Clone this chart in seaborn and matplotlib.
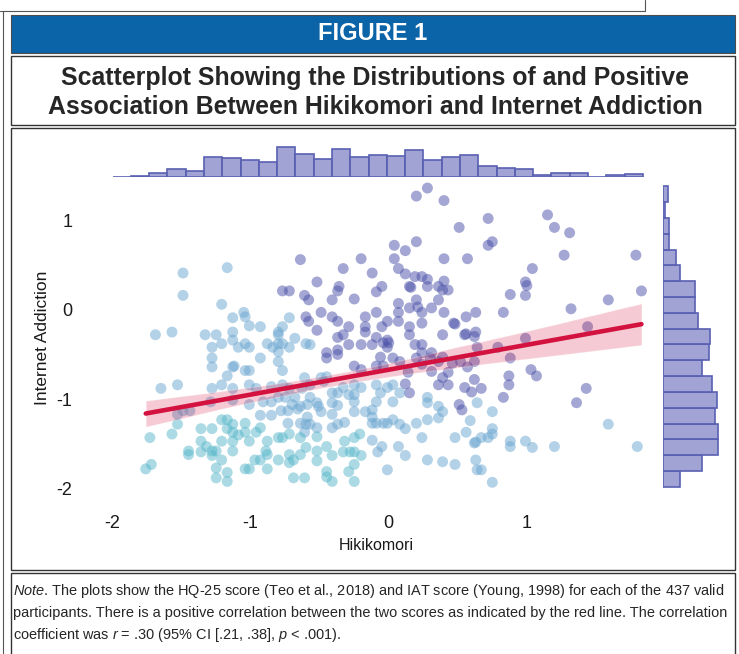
import matplotlib
matplotlib.use("Agg")
import matplotlib.pyplot as plt
from matplotlib.patches import Rectangle
from matplotlib.lines import Line2D
import numpy as np
import pandas as pd
import seaborn as sns

# ================= data (z-scores) =================
# (Hikikomori, Internet Addiction) per participant, split by point colour
purple_points = [
    (-0.64, 0.56), (-0.77, 0.21), (-0.72, 0.21), (-0.61, 0.16), (-0.58, 0.11), (-0.60, -0.08), (-0.58, -0.13),
    (0.28, 1.36), (0.20, 1.27), (0.40, 1.22), (0.51, 0.92), (0.20, 0.76), (0.04, 0.72), (0.12, 0.66),
    (-0.20, 0.57), (0.04, 0.57), (0.40, 0.57), (0.57, 0.57), (-0.33, 0.46), (0.07, 0.46), (-0.12, 0.41),
    (0.12, 0.40), (0.19, 0.37), (0.24, 0.37), (0.28, 0.34), (-0.52, 0.31), (-0.36, 0.26), (-0.37, 0.21),
    (-0.05, 0.26), (-0.09, 0.20), (0.15, 0.26), (0.16, 0.25), (0.28, 0.26), (0.36, 0.26), (0.40, 0.32),
    (0.39, 0.22), (0.43, 0.22), (-0.41, 0.11), (-0.25, 0.12), (0.20, 0.11), (0.36, 0.11), (0.31, 0.02),
    (0.07, 0.07), (0.07, -0.03), (0.15, 0.02), (0.21, 0.03), (0.24, -0.03), (0.24, -0.15), (0.40, -0.03),
    (0.56, -0.08), (0.63, -0.03), (-0.49, -0.03), (-0.41, -0.08), (-0.37, -0.13), (-0.29, -0.19),
    (-0.52, -0.23), (-0.17, -0.08), (-0.17, -0.19), (-0.17, -0.25), (-0.09, -0.03), (-0.01, -0.13),
    (-0.05, -0.19), (0.07, -0.13), (0.15, -0.19), (0.15, -0.28), (0.47, -0.15), (0.48, -0.16),
    (0.56, -0.27), (0.55, -0.28), (0.63, -0.25), (0.39, -0.28), (-0.33, -0.28), (-0.37, -0.31),
    (-0.09, -0.31), (-0.01, -0.34),
    (0.72, 1.02), (1.15, 1.06), (1.20, 0.92), (1.31, 0.86), (0.72, 0.72), (0.75, 0.76), (1.27, 0.61),
    (1.79, 0.61), (1.04, 0.46), (0.99, 0.31), (1.00, 0.27), (0.99, 0.16), (0.88, 0.17), (1.83, 0.21),
    (1.59, 0.11), (1.32, 0.01), (0.83, -0.03), (1.44, -0.19), (0.99, -0.32),
    (-0.45, -0.48), (-0.45, -0.54), (-0.37, -0.45), (-0.37, -0.50), (-0.29, -0.39), (-0.20, -0.39),
    (-0.12, -0.39), (-0.04, -0.37), (-0.01, -0.42), (0.00, -0.37), (-0.06, -0.53), (0.03, -0.54),
    (0.08, -0.58), (-0.09, -0.63), (-0.25, -0.63), (-0.20, -0.67), (-0.04, -0.63),
    (0.19, -0.39), (0.24, -0.39), (0.31, -0.48), (0.24, -0.48), (0.20, -0.54), (0.30, -0.54),
    (0.36, -0.58), (0.24, -0.61), (0.39, -0.53), (0.46, -0.60), (0.52, -0.58), (0.57, -0.64),
    (0.62, -0.30), (0.64, -0.42), (0.62, -0.58),
    (0.14, -0.70), (0.31, -0.69), (0.39, -0.76), (0.43, -0.70), (0.36, -0.84), (0.43, -0.84),
    (0.55, -0.87), (0.60, -0.92), (0.62, -0.78), (0.51, -1.06), (0.53, -1.12), (0.15, -0.93), (0.12, -0.83),
    (0.79, -0.42), (0.88, -0.54), (1.03, -0.67), (1.07, -0.74), (0.87, -0.74), (0.87, -0.84),
    (0.67, -0.88), (0.83, -0.98), (1.43, -0.88), (1.36, -1.04),
]

blue_points = [
    (-1.49, 0.41), (-1.17, 0.47), (-1.49, 0.16), (-1.21, 0.06), (-1.05, -0.03), (-1.04, -0.08),
    (-1.13, -0.09), (-0.72, -0.09), (-1.01, -0.18), (-0.93, -0.19), (-0.77, -0.19), (-0.80, -0.25),
    (-0.80, -0.28), (-1.69, -0.28), (-1.57, -0.25), (-1.33, -0.28), (-1.25, -0.28), (-1.13, -0.25),
    (-0.68, -0.32),
    (-1.28, -0.42), (-1.21, -0.38), (-1.13, -0.34), (-1.09, -0.42), (-1.04, -0.38), (-1.01, -0.42),
    (-0.93, -0.54), (-0.88, -0.38), (-0.80, -0.38), (-0.84, -0.42), (-0.77, -0.38), (-0.80, -0.47),
    (-0.72, -0.42), (-0.60, -0.38),
    (-1.28, -0.54), (-1.28, -0.64), (-1.13, -0.64), (-1.12, -0.63), (-1.17, -0.74), (-1.04, -0.68),
    (-1.01, -0.68), (-0.80, -0.58), (-0.77, -0.68),
    (-1.65, -0.88), (-1.53, -0.84), (-1.28, -0.88), (-1.21, -0.84), (-1.13, -0.88), (-1.01, -0.84),
    (-0.96, -0.88), (-0.85, -0.86), (-0.77, -0.84), (-0.72, -0.88), (-0.63, -0.88),
    (-1.29, -1.03), (-1.13, -1.01), (-1.01, -1.06), (-0.91, -1.03), (-0.85, -1.03), (-0.80, -0.98),
    (-0.75, -0.98), (-0.68, -0.98), (-0.70, -1.06), (-0.64, -1.08), (-0.59, -1.06), (-0.78, -1.13),
    (-0.73, -1.13), (-0.66, -1.11),
    (-1.53, -1.17), (-1.49, -1.13), (-1.44, -1.13), (-0.93, -1.18), (-0.85, -1.18),
    (-0.73, -1.27), (-0.64, -1.27), (-0.60, -1.28), (-0.61, -1.37),
    (-0.57, -0.39),
    (-0.61, -0.76), (-0.57, -0.84), (-0.49, -0.76), (-0.45, -0.75), (-0.47, -0.80), (-0.41, -0.93),
    (-0.37, -0.93), (-0.33, -0.87), (-0.25, -0.84), (-0.20, -0.87), (-0.09, -0.84), (-0.01, -0.87),
    (0.03, -0.84), (-0.06, -0.93), (0.03, -1.03), (0.08, -0.93),
    (-0.25, -0.95), (-0.25, -1.03), (-0.29, -0.95), (-0.57, -0.98), (-0.52, -1.04), (-0.51, -1.08),
    (-0.41, -1.04), (-0.37, -1.07), (-0.25, -1.14), (-0.17, -1.14), (-0.12, -1.12), (-0.09, -1.03),
    (-0.12, -1.20), (-0.59, -1.20), (-0.49, -1.14), (-0.41, -1.17),
    (0.28, -0.98), (0.28, -1.04), (0.36, -1.08), (0.39, -1.14), (0.36, -1.21), (0.28, -1.23),
    (0.20, -1.27), (0.12, -1.33), (0.08, -1.28), (0.03, -1.23), (-0.01, -1.27), (-0.04, -1.27),
    (-0.09, -1.27), (-0.12, -1.27),
    (-0.32, -1.26), (-0.37, -1.28), (-0.41, -1.32), (-0.57, -1.28), (-0.52, -1.32),
    (0.59, -1.24), (0.64, -1.04), (0.24, -1.43), (0.56, -1.37), (0.48, -1.43), (0.62, -1.49), (0.63, -1.48),
    (-0.12, -1.46), (-0.05, -1.53), (-0.08, -1.59), (0.07, -1.53), (0.12, -1.63),
    (-0.01, -1.79), (0.28, -1.68), (0.39, -1.70), (0.48, -1.73), (0.63, -1.68), (0.64, -1.79),
    (0.75, -1.14), (1.59, -1.28), (0.75, -1.33), (0.75, -1.39), (0.67, -1.43), (0.72, -1.43),
    (0.88, -1.47), (0.88, -1.53), (0.99, -1.47), (1.04, -1.54), (1.20, -1.53), (1.80, -1.53),
    (0.67, -1.79), (0.75, -1.93),
]

cyan_points = [
    (-1.21, -1.23), (-1.17, -1.23), (-1.53, -1.28), (-1.57, -1.39), (-1.73, -1.43), (-1.36, -1.33),
    (-1.28, -1.33), (-1.17, -1.33), (-1.13, -1.28), (-1.13, -1.37), (-1.09, -1.40), (-1.04, -1.27),
    (-1.04, -1.37), (-0.96, -1.37), (-0.93, -1.32),
    (-0.80, -1.43), (-0.72, -1.39), (-0.77, -1.43), (-0.64, -1.43),
    (-1.36, -1.47), (-1.21, -1.47), (-1.13, -1.47), (-1.01, -1.47), (-0.88, -1.47),
    (-1.45, -1.58), (-1.45, -1.62), (-1.36, -1.59), (-1.32, -1.53), (-1.28, -1.58), (-1.28, -1.63),
    (-1.25, -1.58), (-1.21, -1.68), (-1.13, -1.58), (-0.89, -1.58), (-0.88, -1.62), (-0.97, -1.68),
    (-0.93, -1.68), (-0.80, -1.68), (-0.72, -1.62), (-0.72, -1.71), (-0.69, -1.68), (-0.64, -1.62),
    (-0.60, -1.54),
    (-1.76, -1.78), (-1.72, -1.73), (-1.25, -1.77), (-1.17, -1.82), (-1.04, -1.78), (-1.01, -1.78),
    (-0.88, -1.78), (-1.25, -1.88), (-1.17, -1.92), (-0.69, -1.88), (-0.61, -1.88),
    (-0.52, -1.42), (-0.21, -1.39), (-0.25, -1.43), (-0.32, -1.47), (-0.33, -1.59), (-0.28, -1.59),
    (-0.25, -1.59), (-0.20, -1.63), (-0.45, -1.53), (-0.52, -1.58), (-0.41, -1.63), (-0.52, -1.69),
    (-0.45, -1.81), (-0.45, -1.87), (-0.41, -1.92), (-0.29, -1.81), (-0.25, -1.73), (-0.25, -1.92),
]

tick_values = [-2, -1, 0, 1]
tick_labels = ["-2", "-1", "0", "1"]

header_text = "FIGURE 1"
title_lines = ["Scatterplot Showing the Distributions of and Positive",
               "Association Between Hikikomori and Internet Addiction"]
note_lines = [r"$\mathit{Note}$. The plots show the HQ-25 score (Teo et al., 2018) and IAT score (Young, 1998) for each of the 437 valid",
              "participants. There is a positive correlation between the two scores as indicated by the red line. The correlation",
              r"coefficient was $\mathit{r}$ = .30 (95% CI [.21, .38], $\mathit{p}$ < .001)."]

group_colors = {"high": "#4a51a8", "mid": "#6aa6d0", "low": "#58b7cb"}

# ================= build the table =================
frames = []
for name, pts in [("high", purple_points), ("mid", blue_points), ("low", cyan_points)]:
    arr = np.array(pts)
    frames.append(pd.DataFrame({"Hikikomori": arr[:, 0], "Internet Addiction": arr[:, 1], "group": name}))
df = pd.concat(frames, ignore_index=True)

# ================= style =================
sns.set_theme(style="white")
plt.rcParams["font.family"] = ["Liberation Sans", "DejaVu Sans"]
plt.rcParams["axes.unicode_minus"] = False
plt.rcParams["mathtext.fontset"] = "custom"
plt.rcParams["mathtext.it"] = "Liberation Sans:italic"
plt.rcParams["mathtext.rm"] = "Liberation Sans"

W, H = 739, 654
fig = plt.figure(figsize=(W / 100, H / 100), dpi=100)
renderer = fig.canvas.get_renderer()


def frac(l, t, r, b):
    return [l / W, 1 - b / H, (r - l) / W, (b - t) / H]


def box(l, t, r, b, **kw):
    fig.add_artist(Rectangle((l / W, 1 - b / H), (r - l) / W, (b - t) / H,
                             transform=fig.transFigure, **kw))


def fit_width(txt, width_px):
    # shrink/grow a text so that it spans the same width as in the reference
    w = txt.get_window_extent(renderer).width
    txt.set_fontsize(txt.get_fontsize() * width_px / w)
    return txt.get_fontsize()


# page frame
fig.add_artist(Line2D([0, 645 / W], [1 - 11 / H] * 2, transform=fig.transFigure, color="#555555", lw=0.8))
fig.add_artist(Line2D([645 / W] * 2, [1, 1 - 11 / H], transform=fig.transFigure, color="#555555", lw=0.8))
fig.add_artist(Line2D([3 / W] * 2, [0, 1 - 11 / H], transform=fig.transFigure, color="#555555", lw=0.8))
box(11, 15, 735, 53, facecolor="#0b64a8", edgecolor="#4d4d4d", lw=0.8)
box(11, 56, 735, 125, facecolor="none", edgecolor="#333333", lw=1.0)
box(11, 128, 735, 570, facecolor="none", edgecolor="#333333", lw=1.0)
box(11, 573, 735, 670, facecolor="none", edgecolor="#333333", lw=1.0)

fig.text(373 / W, 1 - 34 / H, header_text, color="white", fontsize=17, fontweight="bold",
         ha="center", va="center")
t1 = fig.text(375 / W, 1 - 78 / H, title_lines[0], fontsize=17.5, fontweight="bold", ha="center", va="center")
t2 = fig.text(375 / W, 1 - 107 / H, title_lines[1], fontsize=17.5, fontweight="bold", ha="center", va="center")
size = fit_width(t1, 630)
t2.set_fontsize(size)

note_texts = [fig.text(13 / W, 1 - (591 + 22 * i) / H, line, fontsize=11, ha="left", va="center")
              for i, line in enumerate(note_lines)]
size = fit_width(note_texts[0], 712)
for t in note_texts[1:]:
    t.set_fontsize(size)

# ================= axes =================
ax = fig.add_axes(frac(85, 180, 658, 502))
ax_top = fig.add_axes(frac(85, 145, 658, 177), sharex=ax)
ax_right = fig.add_axes(frac(663, 180, 721, 502), sharey=ax)

sns.scatterplot(data=df, x="Hikikomori", y="Internet Addiction", hue="group",
                palette=group_colors, s=62, alpha=0.5, linewidth=0, legend=False, ax=ax)
sns.regplot(data=df, x="Hikikomori", y="Internet Addiction", scatter=False, ax=ax,
            color="#d4123f", line_kws=dict(linewidth=3.3), seed=7)
for coll in ax.collections[1:]:
    coll.set_alpha(0.22)

hist_kw = dict(color="#8f93cc", alpha=0.85, edgecolor="#5a60b2", linewidth=1.2)
sns.histplot(data=df, x="Hikikomori", bins=29, binrange=(-2.0, 1.84), ax=ax_top, **hist_kw)
sns.histplot(data=df, y="Internet Addiction", bins=19, binrange=(-1.98, 1.38), ax=ax_right, **hist_kw)

for a in (ax_top, ax_right):
    a.set_axis_off()

ax.set_xlim(-2.2, 1.95)
ax.set_ylim(-2.15, 1.45)
ax.set_xticks(tick_values)
ax.set_xticklabels(tick_labels)
ax.set_yticks(tick_values)
ax.set_yticklabels(tick_labels)
ax.tick_params(length=0, labelsize=13, colors="#1a1a1a", pad=9)
sns.despine(ax=ax, left=True, bottom=True)
ax.set_xlabel("Hikikomori", fontsize=11.5, color="#1a1a1a")
ax.set_ylabel("Internet Addiction", fontsize=12.5, color="#1a1a1a")
ax.xaxis.set_label_coords(0.508, -0.112)
ax.yaxis.set_label_coords(-0.061, 0.51)

fig.savefig("out.png", dpi=100)
